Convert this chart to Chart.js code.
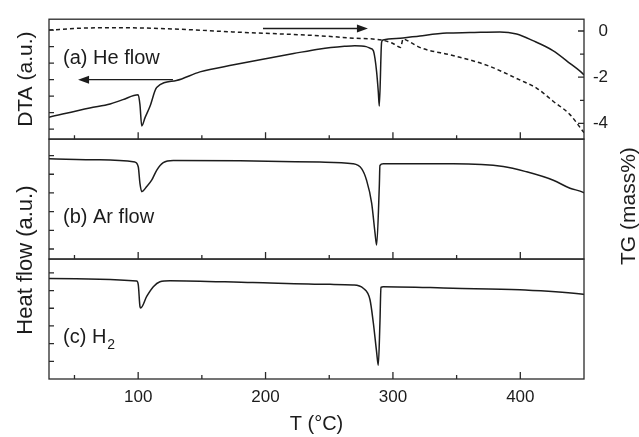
<!DOCTYPE html>
<html>
<head>
<meta charset="utf-8">
<script src="https://cdn.jsdelivr.net/npm/chart.js@4.4.0/dist/chart.umd.min.js"></script>
<style>
  html, body { margin: 0; padding: 0; background: #fff; }
  #wrap { width: 639px; height: 437px; }
</style>
</head>
<body>
<div id="wrap"><canvas id="thermo" width="639" height="437"></canvas></div>
<script>
// (a) He flow - DTA, arbitrary units
const heTemp = [30, 62, 78, 88, 100, 101.4, 102.8, 105.4, 109.3, 114.5, 130, 148.5, 175, 200, 222, 242.7, 262, 270, 279, 282, 284.6, 285.9, 287.2, 288.5, 289.3, 291.1, 292.2, 307.9, 321.2, 342.2, 360.5, 384, 397.1, 409.9, 425.6, 438.9, 449.2, 450];
const heDTA  = [0.73, 1.29, 1.53, 1.79, 2.08, 1.49, 0.20, 0.70, 1.39, 2.52, 2.95, 3.47, 3.90, 4.27, 4.58, 4.86, 5.02, 5.06, 5.00, 4.90, 4.76, 4.29, 3.47, 2.28, 1.40, 5.26, 5.40, 5.52, 5.65, 5.82, 5.85, 5.89, 5.76, 5.36, 4.76, 3.99, 3.35, 3.28];

// (a) He flow - TG, mass%
const tgTemp = [30, 55, 83, 122, 174, 243, 269, 292, 300, 306, 308, 314, 321, 347, 374, 400, 413, 426, 439, 449, 450];
const tgMass = [0.04, 0.12, 0.14, 0.10, -0.04, -0.21, -0.31, -0.40, -0.54, -0.71, -0.35, -0.50, -0.71, -1.06, -1.49, -2.13, -2.48, -3.05, -3.62, -4.33, -4.40];

// (b) Ar flow - heat flow, arbitrary units
const arTemp = [30, 70, 97.5, 100.1, 101.4, 102.8, 106.7, 110.6, 114.5, 119.7, 127.6, 180, 242.7, 268.6, 275.4, 279.3, 283.3, 285.9, 287.2, 289.3, 289.8, 292.4, 347.4, 386.6, 405, 425.9, 439, 449.4, 450];
const arFlow = [4.83, 4.77, 4.65, 4.39, 3.51, 3.07, 3.34, 3.68, 4.21, 4.62, 4.74, 4.72, 4.65, 4.56, 4.30, 3.68, 2.46, 0.88, 0.21, 3.34, 4.47, 4.56, 4.56, 4.42, 4.13, 3.68, 3.25, 3.03, 3.00];

// (c) H2 - heat flow, arbitrary units
const h2Temp = [30, 98.8, 100.1, 101.4, 102, 106.7, 111.9, 117.1, 125, 190, 250.6, 268.6, 276.7, 282, 284.6, 287.2, 288.5, 289.8, 290.6, 292.4, 347.1, 399.7, 449.4, 450];
const h2Flow = [4.68, 4.54, 4.32, 3.11, 3.02, 3.67, 4.22, 4.50, 4.56, 4.45, 4.35, 4.32, 4.13, 3.48, 2.18, 0.52, -0.22, 2.18, 4.18, 4.22, 4.13, 4.04, 3.79, 3.78];

// axis ticks
const xTickValues = [50, 100, 150, 200, 250, 300, 350, 400];
const xTickLabels = [100, 200, 300, 400];
const tgTickValues = [0, -1, -2, -3, -4];
const tgTickLabels = [0, -2, -4];
const dtaTicks = [0, 1, 2, 3, 4, 5, 6];
const arTicks = [0, 1, 2, 3, 4, 5];
const h2Ticks = [0, 1, 2, 3, 4, 5];

const FONT = "'Liberation Sans', Arial, Helvetica, sans-serif";
const INK = '#1c1c1c';
const AXIS = '#2a2a2a';

const toPoints = (xs, ys) => xs.map((t, i) => ({ x: t, y: ys[i] }));

const panels = [
  { axis: 'yA', ticks: dtaTicks },
  { axis: 'yB', ticks: arTicks },
  { axis: 'yC', ticks: h2Ticks }
];

function arrow(ctx, x1, x2, y) {
  const dir = Math.sign(x2 - x1);
  ctx.beginPath();
  ctx.moveTo(x1, y);
  ctx.lineTo(x2 - dir * 8, y);
  ctx.stroke();
  ctx.beginPath();
  ctx.moveTo(x2, y);
  ctx.lineTo(x2 - dir * 11, y - 4);
  ctx.lineTo(x2 - dir * 11, y + 4);
  ctx.closePath();
  ctx.fill();
}

const framePlugin = {
  id: 'frame',
  afterDatasetsDraw(chart) {
    const { ctx, chartArea, scales } = chart;
    const xs = scales.x;
    const L = chartArea.left, R = chartArea.right;
    ctx.save();
    ctx.strokeStyle = AXIS;
    ctx.lineWidth = 1.3;
    panels.forEach(p => {
      const s = scales[p.axis];
      ctx.strokeRect(L, s.top, R - L, s.bottom - s.top);
      ctx.beginPath();
      xTickValues.forEach(t => {
        const px = xs.getPixelForValue(t);
        const len = xTickLabels.includes(t) ? 7 : 4;
        ctx.moveTo(px, s.bottom);
        ctx.lineTo(px, s.bottom - len);
      });
      p.ticks.forEach(v => {
        const py = s.getPixelForValue(v);
        ctx.moveTo(L, py);
        ctx.lineTo(L + 5, py);
      });
      ctx.stroke();
    });

    // TG ticks on the right of panel (a)
    const tg = scales.yTG;
    ctx.beginPath();
    tgTickValues.forEach(v => {
      const py = tg.getPixelForValue(v);
      const len = tgTickLabels.includes(v) ? 6 : 4;
      ctx.moveTo(R, py);
      ctx.lineTo(R - len, py);
    });
    ctx.stroke();

    // panel labels and arrows
    const yA = scales.yA, yB = scales.yB, yC = scales.yC;
    ctx.fillStyle = INK;
    ctx.strokeStyle = INK;
    ctx.font = '20px ' + FONT;
    ctx.textBaseline = 'middle';
    ctx.textAlign = 'left';
    const lx = xs.getPixelForValue(41);
    ctx.fillText('(a) He flow', lx, yA.getPixelForValue(4.29));
    ctx.fillText('(b) Ar flow', lx, yB.getPixelForValue(1.67));
    const cy = yC.getPixelForValue(1.33);
    ctx.fillText('(c) H', lx, cy);
    const w = ctx.measureText('(c) H').width;
    ctx.font = '14px ' + FONT;
    ctx.fillText('2', lx + w + 1, cy + 7);

    ctx.lineWidth = 1.4;
    arrow(ctx, xs.getPixelForValue(127.3), xs.getPixelForValue(52.8), yA.getPixelForValue(3.0));
    arrow(ctx, xs.getPixelForValue(198), xs.getPixelForValue(280.4), yA.getPixelForValue(6.1));

    // axis titles spanning panels
    ctx.textAlign = 'center';
    ctx.font = '22px ' + FONT;
    ctx.save();
    ctx.translate(26, (yB.top + yC.bottom) / 2 + 1);
    ctx.rotate(-Math.PI / 2);
    ctx.fillText('Heat flow (a.u.)', 0, 0);
    ctx.restore();
    ctx.font = '21px ' + FONT;
    ctx.save();
    ctx.translate(629, (chartArea.top + chartArea.bottom) / 2 + 7);
    ctx.rotate(-Math.PI / 2);
    ctx.fillText('TG (mass%)', 0, 0);
    ctx.restore();
    ctx.restore();
  }
};

const hidden = { display: false };
// left stack is laid out bottom-up, so the top panel gets the highest weight
const leftAxis = (min, max, weight, title) => ({
  type: 'linear', position: 'left', stack: 'left', weight: weight,
  min: min, max: max,
  afterFit: s => { s.width = 49; },
  grid: hidden, border: hidden,
  ticks: { display: false },
  title: title ? { display: true, text: title, color: INK, font: { size: 21, family: FONT }, padding: { top: 14 } } : { display: false }
});
const rightDummy = weight => ({
  type: 'linear', position: 'right', stack: 'right', weight: weight,
  afterFit: s => { s.width = 24; },
  grid: hidden, border: hidden, ticks: { display: false }
});

new Chart(document.getElementById('thermo'), {
  type: 'line',
  data: {
    datasets: [
      { label: 'He DTA', data: toPoints(heTemp, heDTA), yAxisID: 'yA', borderColor: INK, borderWidth: 1.5, cubicInterpolationMode: 'monotone' },
      { label: 'He TG', data: toPoints(tgTemp, tgMass), yAxisID: 'yTG', borderColor: INK, borderWidth: 1.5, borderDash: [4, 3], cubicInterpolationMode: 'monotone' },
      { label: 'Ar', data: toPoints(arTemp, arFlow), yAxisID: 'yB', borderColor: INK, borderWidth: 1.5, cubicInterpolationMode: 'monotone' },
      { label: 'H2', data: toPoints(h2Temp, h2Flow), yAxisID: 'yC', borderColor: INK, borderWidth: 1.5, cubicInterpolationMode: 'monotone' }
    ]
  },
  options: {
    responsive: false,
    animation: false,
    devicePixelRatio: 1,
    layout: { padding: { top: 13, right: 31, bottom: 0, left: 0 } },
    elements: { point: { radius: 0 } },
    plugins: { legend: { display: false }, tooltip: { enabled: false } },
    scales: {
      x: {
        type: 'linear', position: 'bottom', min: 30, max: 450,
        afterFit: s => { s.height = 58; },
        grid: hidden, border: hidden,
        ticks: {
          stepSize: 50, includeBounds: false, autoSkip: false, maxRotation: 0,
          callback: v => xTickLabels.includes(v) ? String(v) : '',
          color: INK, font: { size: 17, family: FONT }, padding: 0
        },
        title: { display: true, text: 'T (°C)', color: INK, font: { size: 20, family: FONT }, padding: { top: 0, bottom: 1 } }
      },
      yA: leftAxis(-0.6, 6.66, 3, 'DTA (a.u.)'),
      yB: leftAxis(-0.54, 5.88, 2, null),
      yC: leftAxis(-1.0, 5.78, 1, null),
      yTG: {
        type: 'linear', position: 'right', stack: 'right', weight: 1,
        min: -4.68, max: 0.51,
        afterFit: s => { s.width = 24; },
        grid: hidden, border: hidden,
        ticks: {
          stepSize: 1, includeBounds: false, crossAlign: 'far', padding: 9,
          callback: v => tgTickLabels.includes(v) ? String(v) : '',
          color: INK, font: { size: 17, family: FONT }
        }
      },
      rB: rightDummy(2),
      rC: rightDummy(3)
    }
  },
  plugins: [framePlugin]
});
</script>
</body>
</html>
